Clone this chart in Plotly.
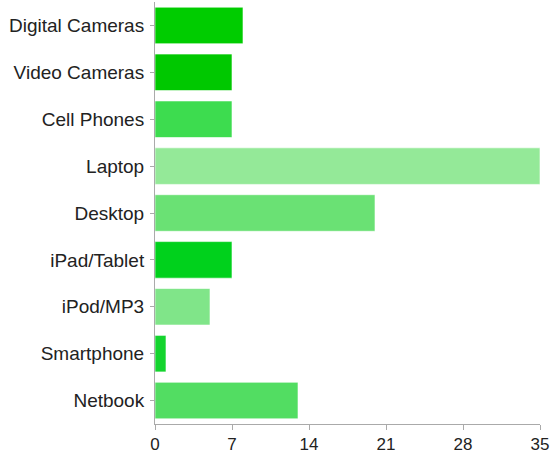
import plotly.graph_objects as go

categories = ["Digital Cameras", "Video Cameras", "Cell Phones", "Laptop", "Desktop",
              "iPad/Tablet", "iPod/MP3", "Smartphone", "Netbook"]
values = [8, 7, 7, 35, 20, 7, 5, 1, 13]
bar_colors = ["#00CC00", "#00C800", "#3DDC4F", "#94E998", "#6AE174",
              "#00D11C", "#80E589", "#14D42E", "#52DD62"]
x_ticks = [0, 7, 14, 21, 28, 35]

fig = go.Figure(go.Bar(
    y=categories,
    x=values,
    orientation="h",
    marker=dict(color=bar_colors, line=dict(color="rgba(255,255,255,0.6)", width=1)),
    hoverinfo="x+y",
))

fig.update_layout(
    width=552,
    height=456,
    margin=dict(l=155, r=12, t=2, b=26),
    paper_bgcolor="white",
    plot_bgcolor="white",
    bargap=0.22,
    showlegend=False,
    font=dict(family="Liberation Sans, Arial, sans-serif", size=17, color="#222"),
    xaxis=dict(
        range=[0, 35],
        tickvals=x_ticks,
        showgrid=False,
        zeroline=False,
        showline=True,
        linecolor="#aaa",
        linewidth=1,
        ticks="outside",
        ticklen=5,
        tickcolor="#aaa",
        tickfont=dict(size=17),
    ),
    yaxis=dict(
        autorange="reversed",
        showgrid=False,
        zeroline=False,
        showline=True,
        linecolor="#aaa",
        linewidth=1,
        ticks="outside",
        ticklen=4,
        tickcolor="#aaa",
        ticklabelstandoff=2,
        tickfont=dict(size=19),
    ),
)

fig.write_html("out.html")
